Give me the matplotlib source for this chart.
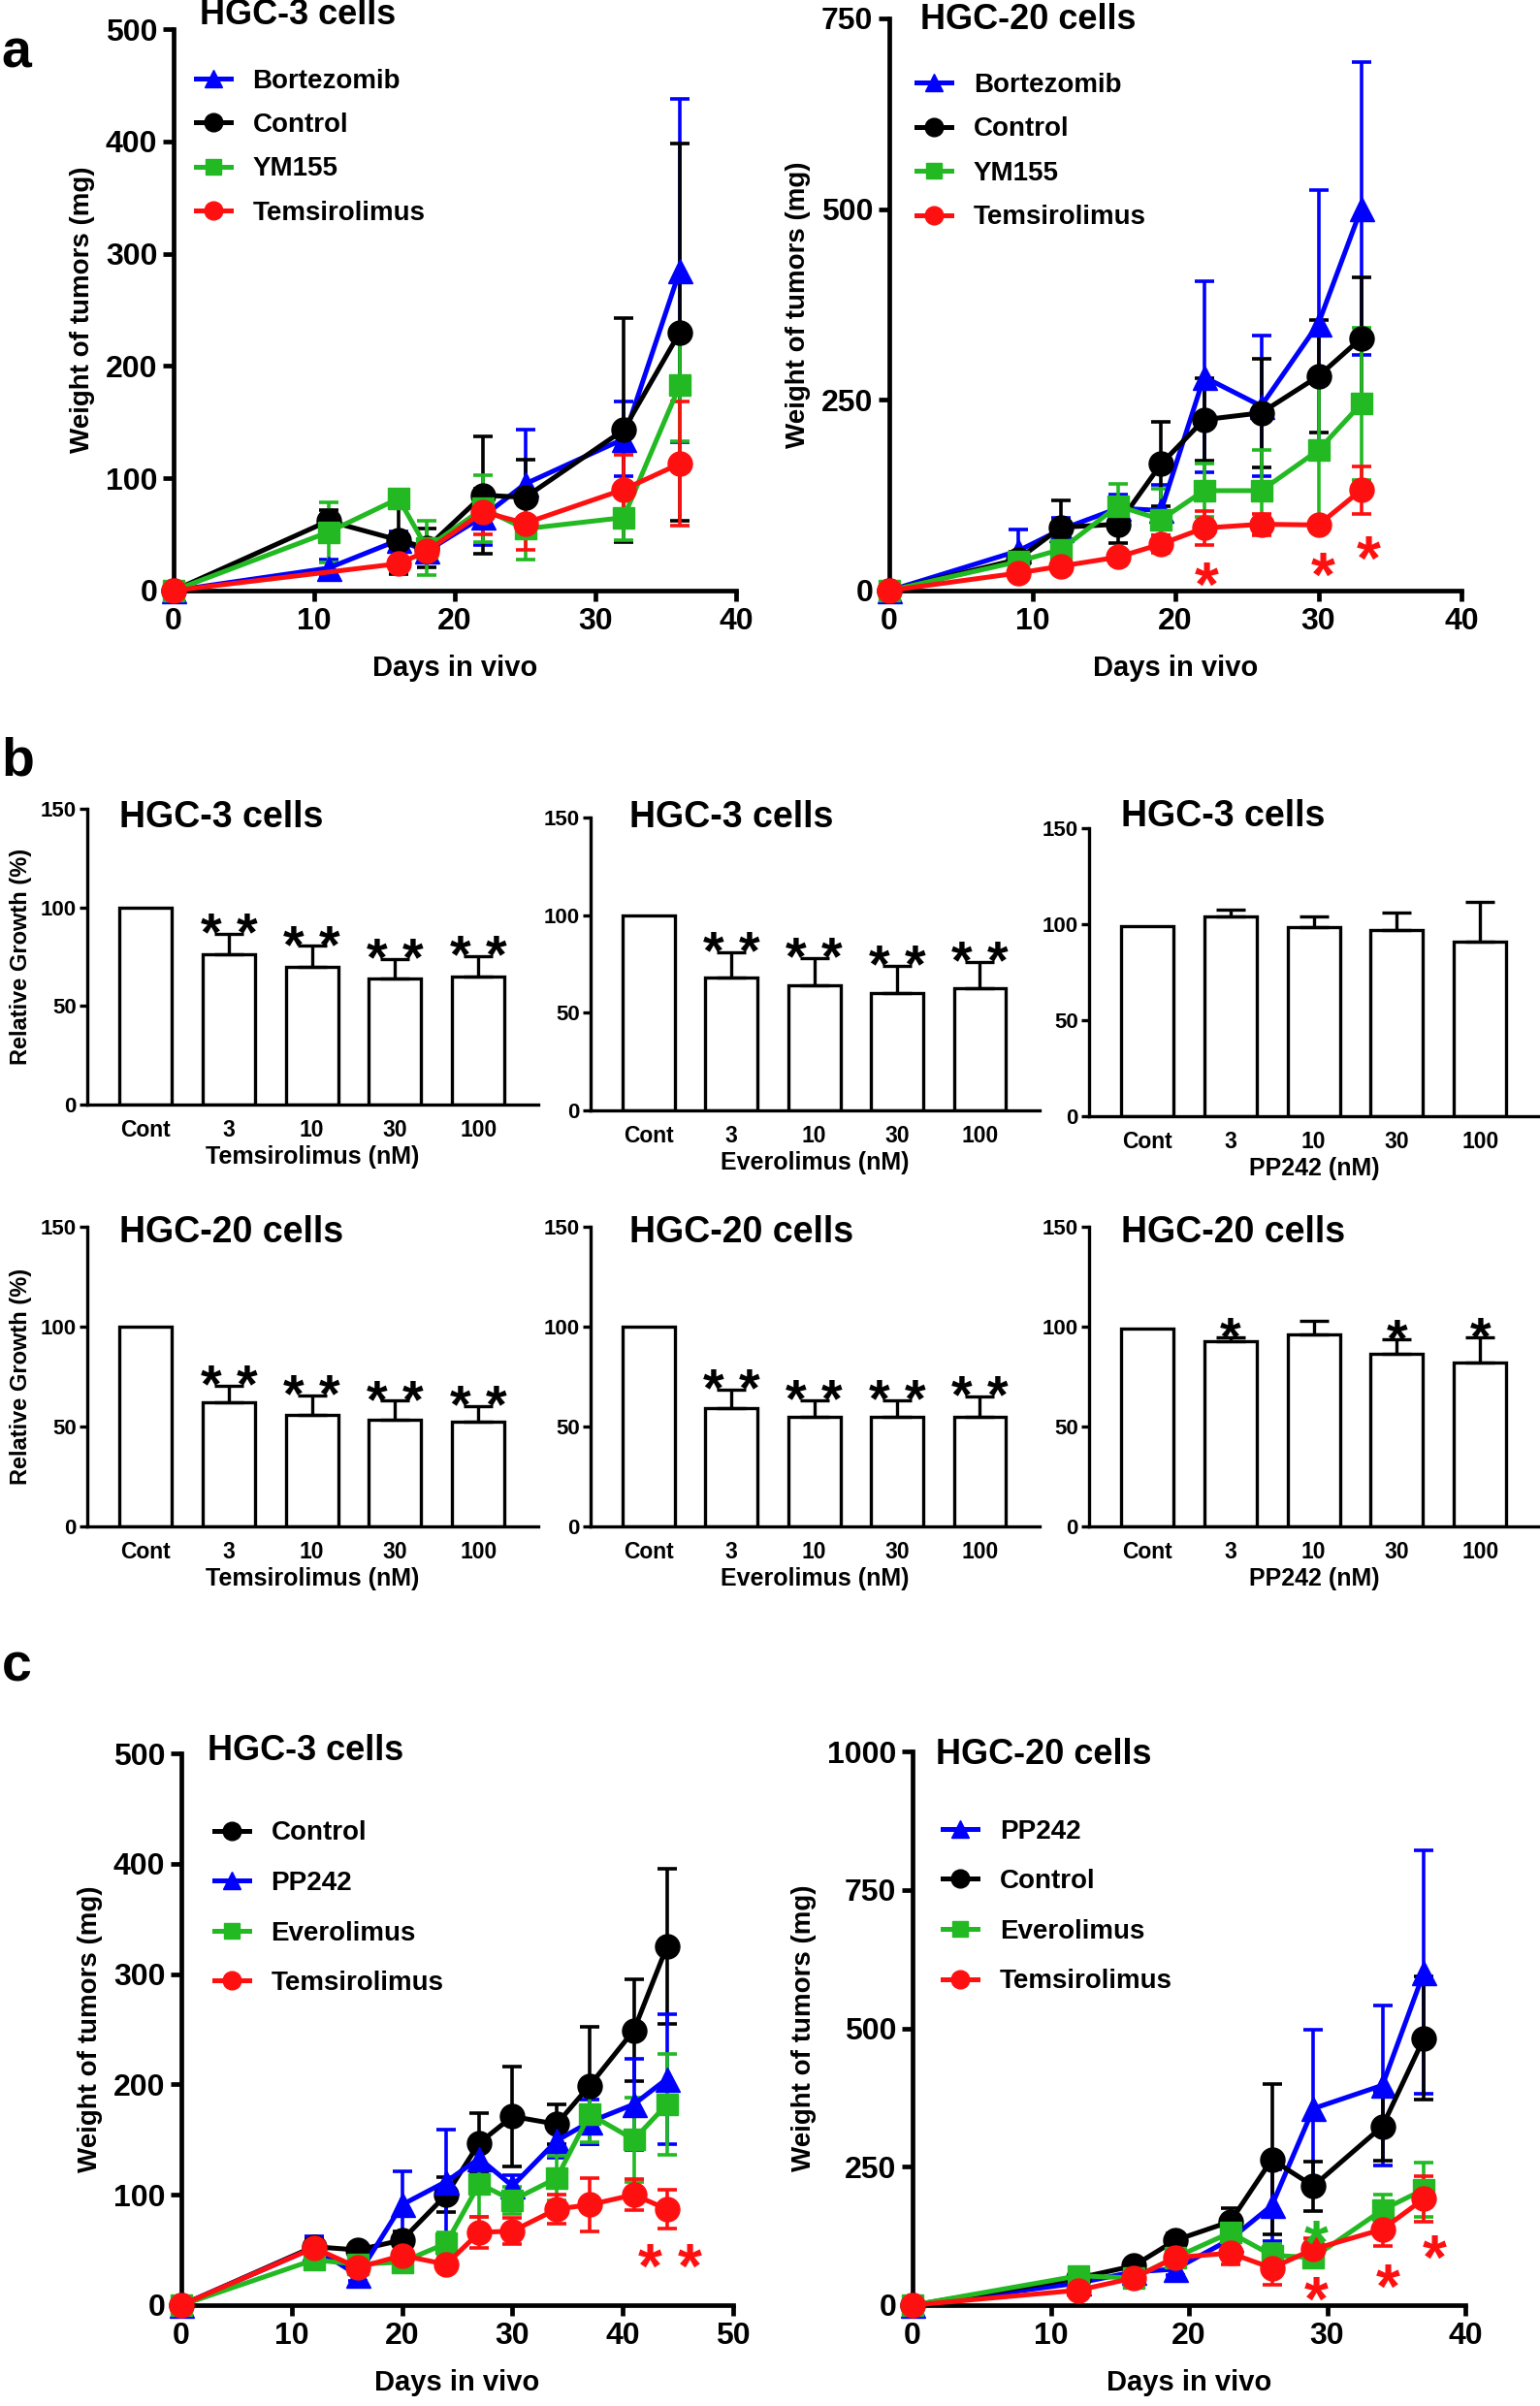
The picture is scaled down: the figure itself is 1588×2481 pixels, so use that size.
import matplotlib
matplotlib.use('Agg')
import matplotlib.pyplot as plt
import matplotlib.transforms as mtransforms
import numpy as np

plt.rcParams['font.family'] = ['Liberation Sans', 'DejaVu Sans']
plt.rcParams['font.weight'] = 'bold'
plt.rcParams['axes.labelweight'] = 'bold'
plt.rcParams['mathtext.fontset'] = 'custom'
plt.rcParams['mathtext.rm'] = 'Liberation Sans'
plt.rcParams['mathtext.bf'] = 'Liberation Sans:bold'

# ── Data: panel a (xenograft, HGC-3) ──────────────────────
a3_days = [0, 11, 16, 18, 22, 25, 32, 36]
a3_bort = [0, 20, 45, 35, 66, 95, 135, 285]
a3_bort_err = [0, 8, 8, 8, 25, 48, 33, 153]
a3_ctrl = [0, 62, 45, 38, 85, 83, 143, 230]
a3_ctrl_err = [0, 10, 30, 17, 52, 34, 100, 168]
a3_ym = [0, 52, 82, 38, 73, 55, 65, 183]
a3_ym_err = [0, 27, 8, 24, 30, 27, 20, 50]
a3_tem_days = [0, 16, 18, 22, 25, 32, 36]
a3_tem = [0, 24, 35, 70, 60, 90, 113]
a3_tem_err = [0, 3, 5, 20, 24, 31, 55]

# ── Data: panel a (xenograft, HGC-20) ─────────────────────
a20_days = [0, 9, 12, 16, 19, 22, 26, 30, 33]
a20_bort = [0, 52, 80, 108, 105, 280, 242, 350, 501]
a20_bort_err = [0, 28, 15, 18, 33, 125, 92, 175, 192]
a20_ctrl = [0, 41, 83, 87, 166, 224, 233, 281, 331]
a20_ctrl_err = [0, 10, 35, 25, 55, 54, 71, 74, 79]
a20_ym = [0, 38, 54, 111, 93, 131, 131, 184, 245]
a20_ym_err = [0, 8, 15, 29, 40, 35, 53, 105, 100]
a20_tem = [0, 23, 32, 44, 61, 82, 87, 86, 132]
a20_tem_err = [0, 3, 5, 6, 12, 22, 14, 8, 31]
a20_star_x = [22.2, 30.3, 33.5]
a20_star_y = [26, 38, 60]

# ── Data: panel b (relative growth, %) ────────────────────
doses = ['Cont', '3', '10', '30', '100']
b_tem3 = [100, 76, 70, 64, 65]
b_tem3_err = [0, 10.5, 10.5, 9.7, 10.4]
b_eve3 = [100, 68, 64, 60, 62.4]
b_eve3_err = [0, 13, 14, 14, 13.6]
b_pp3 = [99, 104, 98.3, 97, 91]
b_pp3_err = [0, 3.7, 5.5, 9, 20.8]
b_tem20 = [100, 62, 56, 53.6, 52.3]
b_tem20_err = [0, 8.6, 9.7, 9.3, 7.8]
b_eve20 = [100, 59.4, 55, 54.8, 55]
b_eve20_err = [0, 9, 8, 8.2, 10]
b_pp20 = [99, 92.6, 96, 86.5, 82]
b_pp20_err = [0, 2.1, 6.9, 7, 12.5]
stars_two = ['', '* *', '* *', '* *', '* *']
stars_pp20 = ['', '*', '', '*', '*']
stars_none = ['', '', '', '', '']

# ── Data: panel c (xenograft, HGC-3) ──────────────────────
c3_days = [0, 12, 16, 20, 24, 27, 30, 34, 37, 41, 44]
c3_ctrl = [0, 53, 50, 59, 100, 147, 171, 164, 199, 249, 325]
c3_ctrl_err = [0, 8, 5, 8, 16, 27, 45, 18, 53, 46, 70]
c3_pp = [0, 52, 27, 91, 112, 133, 108, 149, 166, 182, 205]
c3_pp_err = [0, 10, 5, 30, 47, 15, 10, 15, 20, 41, 59]
c3_eve = [0, 41, 37, 39, 56, 110, 95, 115, 173, 150, 182]
c3_eve_err = [0, 5, 5, 5, 10, 30, 12, 20, 25, 38, 46]
c3_tem = [0, 52, 34, 45, 37, 66, 67, 87, 91, 100, 87]
c3_tem_err = [0, 5, 5, 6, 5, 14, 12, 13, 24, 14, 18]
c3_star_x = [42.5, 46.1]
c3_star_y = [48, 48]

# ── Data: panel c (xenograft, HGC-20) ─────────────────────
c20_days = [0, 12, 16, 19, 23, 26, 29, 34, 37]
c20_pp = [0, 40, 60, 65, 119, 180, 355, 397, 601]
c20_pp_err = [0, 5, 8, 10, 20, 65, 142, 145, 220]
c20_ctrl = [0, 49, 71, 117, 151, 263, 215, 323, 482]
c20_ctrl_err = [0, 5, 8, 12, 25, 136, 45, 62, 111]
c20_eve = [0, 53, 49, 86, 131, 90, 86, 172, 209]
c20_eve_err = [0, 5, 6, 10, 15, 20, 15, 28, 49]
c20_tem = [0, 27, 49, 86, 94, 67, 101, 137, 192]
c20_tem_err = [0, 5, 6, 12, 20, 30, 20, 30, 41]
c20_green_star_x = [29.2]
c20_green_star_y = [138]
c20_red_star_x = [29.2, 34.4, 37.8]
c20_red_star_y = [36, 58, 111]

BLUE = '#0000ff'
BLACK = '#000000'
GREEN = '#22b922'
RED = '#ff1010'

W, H = 1588, 2481
fig = plt.figure(figsize=(W / 100, H / 100), dpi=100)


def axes_px(l, r, t, b):
    return fig.add_axes([l / W, 1 - b / H, (r - l) / W, (b - t) / H])


def star_text(ax, x, y, s, color, fs):
    # y is where the centre of the asterisk glyph should sit
    tr = mtransforms.offset_copy(ax.transData, fig=fig, y=-0.55 * fs, units='points')
    ax.text(x, y, s, color=color, fontsize=fs, ha='center', va='baseline',
            transform=tr, clip_on=False, zorder=6)


def line_panel(ax, series, xlim, xticks, ylim, yticks, title, title_xy,
               leg_xy, leg_spacing):
    for label, days, vals, errs, color, marker, ms in series:
        ax.errorbar(days, vals, yerr=errs, fmt='none', ecolor=color,
                    elinewidth=2.6, capsize=7, capthick=2.6, clip_on=False, zorder=3)
        ax.plot(days, vals, color=color, marker=marker, markersize=ms, lw=3.6,
                label=label, clip_on=False, zorder=4)
    ax.set_xlim(xlim)
    ax.set_ylim(ylim)
    ax.set_xticks(xticks)
    ax.set_yticks(yticks)
    for s in ['top', 'right']:
        ax.spines[s].set_visible(False)
    for s in ['left', 'bottom']:
        ax.spines[s].set_linewidth(3.4)
    ax.tick_params(width=3.4, length=8, labelsize=23, pad=4)
    ax.set_xlabel('Days in vivo', fontsize=21, labelpad=14)
    ax.set_ylabel('Weight of tumors (mg)', fontsize=20, labelpad=8)
    ax.text(title_xy[0], title_xy[1], title, transform=ax.transAxes,
            fontsize=26, ha='left', va='center')
    ax.legend(loc='upper left', bbox_to_anchor=leg_xy, frameon=False,
              fontsize=20, handlelength=1.3, handletextpad=0.8,
              labelspacing=leg_spacing, borderpad=0, borderaxespad=0,
              markerscale=0.75)


def bar_panel(ax, vals, errs, stars, xlabel, title, title_xy, ylabel=None):
    x = np.arange(len(doses))
    ax.bar(x, vals, width=0.63, color='white', edgecolor='black',
           linewidth=2.4, zorder=2)
    ax.errorbar(x[1:], vals[1:], yerr=[np.zeros(len(errs) - 1), errs[1:]],
                fmt='none', ecolor='black', elinewidth=2.4, capsize=11,
                capthick=2.4, zorder=3)
    for xi, v, e, s in zip(x, vals, errs, stars):
        if s:
            star_text(ax, xi, v + e + 6.5, s, 'black', 40)
    ax.set_xlim(-0.7, 4.72)
    ax.set_ylim(0, 150)
    ax.set_yticks([0, 50, 100, 150])
    ax.set_xticks(x)
    ax.set_xticklabels(doses)
    for s in ['top', 'right']:
        ax.spines[s].set_visible(False)
    for s in ['left', 'bottom']:
        ax.spines[s].set_linewidth(2.4)
    ax.tick_params(axis='x', length=0, labelsize=16.5, pad=11)
    ax.tick_params(axis='y', length=6, width=2.4, labelsize=16, pad=2)
    ax.set_xlabel(xlabel, fontsize=18, labelpad=3)
    if ylabel:
        ax.set_ylabel(ylabel, fontsize=17, labelpad=6)
    ax.text(title_xy[0], title_xy[1], title, transform=ax.transAxes,
            fontsize=27, ha='left', va='center')


# ── Panel a ────────────────────────────────────────────────
ax = axes_px(179, 759, 30, 609)
line_panel(ax, [
    ('Bortezomib', a3_days, a3_bort, a3_bort_err, BLUE, '^', 18),
    ('Control', a3_days, a3_ctrl, a3_ctrl_err, BLACK, 'o', 18),
    ('YM155', a3_days, a3_ym, a3_ym_err, GREEN, 's', 16),
    ('Temsirolimus', a3_tem_days, a3_tem, a3_tem_err, RED, 'o', 18),
], (0, 40), [0, 10, 20, 30, 40], (0, 500), [0, 100, 200, 300, 400, 500],
    'HGC-3 cells', (0.046, 1.025), (0.04, 0.93), 0.7)

ax = axes_px(917, 1507, 19, 609)
line_panel(ax, [
    ('Bortezomib', a20_days, a20_bort, a20_bort_err, BLUE, '^', 18),
    ('Control', a20_days, a20_ctrl, a20_ctrl_err, BLACK, 'o', 18),
    ('YM155', a20_days, a20_ym, a20_ym_err, GREEN, 's', 16),
    ('Temsirolimus', a20_days, a20_tem, a20_tem_err, RED, 'o', 18),
], (0, 40), [0, 10, 20, 30, 40], (0, 750), [0, 250, 500, 750],
    'HGC-20 cells', (0.054, 0.997), (0.048, 0.905), 0.7)
for sx, sy in zip(a20_star_x, a20_star_y):
    star_text(ax, sx, sy, r'$\mathbf{*}$', RED, 46)

# ── Panel b ────────────────────────────────────────────────
ax = axes_px(90, 555, 834, 1139)
bar_panel(ax, b_tem3, b_tem3_err, stars_two, 'Temsirolimus (nM)', 'HGC-3 cells',
          (0.072, 0.97), 'Relative Growth (%)')
ax = axes_px(609, 1072, 843, 1145)
bar_panel(ax, b_eve3, b_eve3_err, stars_two, 'Everolimus (nM)', 'HGC-3 cells',
          (0.086, 1.0))
ax = axes_px(1123, 1588, 854, 1151)
bar_panel(ax, b_pp3, b_pp3_err, stars_none, 'PP242 (nM)', 'HGC-3 cells',
          (0.072, 1.04))
ax = axes_px(90, 555, 1265, 1574)
bar_panel(ax, b_tem20, b_tem20_err, stars_two, 'Temsirolimus (nM)', 'HGC-20 cells',
          (0.072, 0.98), 'Relative Growth (%)')
ax = axes_px(609, 1072, 1265, 1574)
bar_panel(ax, b_eve20, b_eve20_err, stars_two, 'Everolimus (nM)', 'HGC-20 cells',
          (0.086, 0.98))
ax = axes_px(1123, 1588, 1265, 1574)
bar_panel(ax, b_pp20, b_pp20_err, stars_pp20, 'PP242 (nM)', 'HGC-20 cells',
          (0.072, 0.98))

# ── Panel c ────────────────────────────────────────────────
ax = axes_px(187, 756, 1808, 2377)
line_panel(ax, [
    ('Control', c3_days, c3_ctrl, c3_ctrl_err, BLACK, 'o', 18),
    ('PP242', c3_days, c3_pp, c3_pp_err, BLUE, '^', 18),
    ('Everolimus', c3_days, c3_eve, c3_eve_err, GREEN, 's', 16),
    ('Temsirolimus', c3_days, c3_tem, c3_tem_err, RED, 'o', 18),
], (0, 50), [0, 10, 20, 30, 40, 50], (0, 500), [0, 100, 200, 300, 400, 500],
    'HGC-3 cells', (0.047, 1.005), (0.06, 0.878), 0.92)
for sx, sy in zip(c3_star_x, c3_star_y):
    star_text(ax, sx, sy, r'$\mathbf{*}$', RED, 46)

ax = axes_px(941, 1511, 1806, 2377)
line_panel(ax, [
    ('PP242', c20_days, c20_pp, c20_pp_err, BLUE, '^', 18),
    ('Control', c20_days, c20_ctrl, c20_ctrl_err, BLACK, 'o', 18),
    ('Everolimus', c20_days, c20_eve, c20_eve_err, GREEN, 's', 16),
    ('Temsirolimus', c20_days, c20_tem, c20_tem_err, RED, 'o', 18),
], (0, 40), [0, 10, 20, 30, 40], (0, 1000), [0, 250, 500, 750, 1000],
    'HGC-20 cells', (0.042, 0.994), (0.055, 0.878), 0.92)
for sx, sy in zip(c20_green_star_x, c20_green_star_y):
    star_text(ax, sx, sy, r'$\mathbf{*}$', GREEN, 46)
for sx, sy in zip(c20_red_star_x, c20_red_star_y):
    star_text(ax, sx, sy, r'$\mathbf{*}$', RED, 46)

# ── Panel letters ──────────────────────────────────────────
fig.text(0.001, 1 - 55 / H, 'a', fontsize=40, ha='left', va='center')
fig.text(0.001, 1 - 786 / H, 'b', fontsize=40, ha='left', va='center')
fig.text(0.001, 1 - 1720 / H, 'c', fontsize=40, ha='left', va='center')

fig.savefig('out.png', dpi=100, facecolor='white')
